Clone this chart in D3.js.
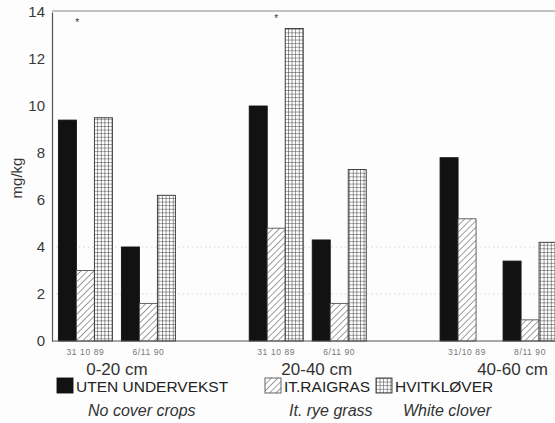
<!DOCTYPE html>
<html>
<head>
<meta charset="utf-8">
<script src="https://cdn.jsdelivr.net/npm/d3@7"></script>
<style>
  html, body { margin: 0; padding: 0; background: #fdfdfd; }
  svg { display: block; font-family: "Liberation Sans", Arial, Helvetica, sans-serif; }
</style>
</head>
<body>
<svg id="chart" width="555" height="423"></svg>
<script>
// Soil depth layers and sampling dates within each layer
const depthLayers = ["0-20 cm", "20-40 cm", "40-60 cm"];
const samplingDates = [
  ["31 10 89", "6/11 90"],
  ["31 10 89", "6/11 90"],
  ["31/10 89", "8/11 90"]
];

// Treatments (Norwegian legend text and English translation)
const treatments = ["UTEN UNDERVEKST", "IT.RAIGRAS", "HVITKLØVER"];
const treatmentsEnglish = ["No cover crops", "It. rye grass", "White clover"];

// mg/kg per layer/date, in order: 0-20 d1, 0-20 d2, 20-40 d1, 20-40 d2, 40-60 d1, 40-60 d2
const utenUndervekst = [9.4, 4.0, 10.0, 4.3, 7.8, 3.4];
const itRaigras      = [3.0, 1.6, 4.8, 1.6, 5.2, 0.9];
const hvitklover     = [9.5, 6.2, 13.3, 7.3, null, 4.2];

const yTicks = [0, 2, 4, 6, 8, 10, 12, 14];

// Significance marks (*) above the first sampling date; "slot" is measured in bar widths
const sigMarks = [
  { layer: 0, date: 0, slot: 1.05, value: 13.6 },
  { layer: 1, date: 0, slot: 1.5, value: 13.8 }
];

const seriesValues = [utenUndervekst, itRaigras, hvitklover];
const cells = [];
depthLayers.forEach((layer, li) => {
  samplingDates[li].forEach((d, di) => {
    treatments.forEach((t, ti) => {
      const v = seriesValues[ti][li * 2 + di];
      if (v != null) cells.push({ layer, li, di, ti, value: v });
    });
  });
});

const svg = d3.select("#chart");
const W = 555, H = 423;
const axisX = 52, yTop = 12, yBase = 341;

// Fill patterns
const defs = svg.append("defs");
const hatch = defs.append("pattern")
  .attr("id", "hatch").attr("patternUnits", "userSpaceOnUse")
  .attr("width", 4.6).attr("height", 4.6)
  .attr("patternTransform", "rotate(45)");
hatch.append("rect").attr("width", 4.6).attr("height", 4.6).attr("fill", "#fff");
hatch.append("line").attr("x1", 0).attr("y1", 0).attr("x2", 0).attr("y2", 4.6)
  .attr("stroke", "#6a6a6a").attr("stroke-width", 1.3);

const grid = defs.append("pattern")
  .attr("id", "grid").attr("patternUnits", "userSpaceOnUse")
  .attr("width", 3.6).attr("height", 3.6);
grid.append("rect").attr("width", 3.6).attr("height", 3.6).attr("fill", "#fff");
grid.append("path").attr("d", "M0,0H3.6M0,0V3.6")
  .attr("stroke", "#333").attr("stroke-width", 1).attr("fill", "none");

const fills = ["#121212", "url(#hatch)", "url(#grid)"];
const strokes = ["#121212", "#555", "#333"];

// Scales
const y = d3.scaleLinear().domain([0, 14]).range([yBase, yTop]);
const xLayer = d3.scaleBand().domain(depthLayers).range([21.5, 594]);
const xDate = d3.scaleBand().domain([0, 1]).range([36.9, 153.9]).paddingInner(0.143);
const xSeries = d3.scaleBand().domain([0, 1, 2]).range([0, xDate.bandwidth()]);

const dateX = (li, di) => xLayer(depthLayers[li]) + xDate(di);

// Faint dotted reference lines
svg.append("g").selectAll("line").data([2, 4]).join("line")
  .attr("x1", axisX).attr("x2", W)
  .attr("y1", d => y(d)).attr("y2", d => y(d))
  .attr("stroke", "#d6d6d6").attr("stroke-width", 1)
  .attr("stroke-dasharray", "1.5,3");

// Frame top line
svg.append("line").attr("x1", axisX).attr("x2", W).attr("y1", y(14) - 1).attr("y2", y(14) - 1)
  .attr("stroke", "#888").attr("stroke-width", 1.2);

// Bars
svg.append("g").selectAll("rect").data(cells).join("rect")
  .attr("x", d => dateX(d.li, d.di) + xSeries(d.ti))
  .attr("y", d => y(d.value))
  .attr("width", xSeries.bandwidth())
  .attr("height", d => y(0) - y(d.value))
  .attr("fill", d => fills[d.ti])
  .attr("stroke", d => strokes[d.ti])
  .attr("stroke-width", 0.9);

// Y axis
const yAxis = svg.append("g").attr("transform", `translate(${axisX},0)`)
  .call(d3.axisLeft(y).tickValues(yTicks).tickSize(0).tickPadding(7).tickFormat(d3.format("d")));
yAxis.select(".domain").attr("stroke", "#555").attr("stroke-width", 1.2);
yAxis.selectAll("text").attr("font-size", 15).attr("fill", "#3a3a3a")
  .attr("font-family", "Liberation Sans, Arial, sans-serif");

// Baseline
svg.append("line").attr("x1", axisX).attr("x2", W).attr("y1", y(0)).attr("y2", y(0))
  .attr("stroke", "#555").attr("stroke-width", 1.2);

// Y axis title
svg.append("text")
  .attr("transform", `translate(22,178) rotate(-90)`)
  .attr("text-anchor", "middle")
  .attr("font-size", 15).attr("fill", "#3a3a3a")
  .text("mg/kg");

// Sampling date labels
const dateLabelData = [];
samplingDates.forEach((ds, li) => ds.forEach((label, di) => dateLabelData.push({ li, di, label })));
svg.append("g").selectAll("text").data(dateLabelData).join("text")
  .attr("x", d => dateX(d.li, d.di) + xDate.bandwidth() / 2)
  .attr("y", 355)
  .attr("text-anchor", "middle")
  .attr("font-size", 8.5).attr("letter-spacing", 0.6).attr("fill", "#777")
  .text(d => d.label);

// Depth layer labels
const layerNudge = [0, 9, 14];
svg.append("g").selectAll("text").data(depthLayers).join("text")
  .attr("x", (d, i) => xLayer(d) + xLayer.bandwidth() / 2 + layerNudge[i])
  .attr("y", 375)
  .attr("text-anchor", "middle")
  .attr("font-size", 17).attr("fill", "#333")
  .text(d => d);

// Legend
const legendX = [57, 265, 376];
const legend = svg.append("g").selectAll("g").data(treatments).join("g")
  .attr("transform", (d, i) => `translate(${legendX[i]},0)`);
legend.append("rect")
  .attr("x", 0).attr("y", 378).attr("width", 16).attr("height", 15)
  .attr("fill", (d, i) => fills[i]).attr("stroke", (d, i) => strokes[i]).attr("stroke-width", 0.9);
legend.append("text")
  .attr("x", 19).attr("y", 392)
  .attr("font-size", 15.5).attr("fill", "#222")
  .text(d => d);
legend.append("text")
  .attr("x", (d, i) => [31, 24, 27][i]).attr("y", 416)
  .attr("font-size", 16).attr("font-style", "italic").attr("fill", "#333")
  .text((d, i) => treatmentsEnglish[i]);

// Significance asterisks
svg.append("g").selectAll("text").data(sigMarks).join("text")
  .attr("x", d => dateX(d.layer, d.date) + xSeries.step() * d.slot)
  .attr("y", d => y(d.value) + 5)
  .attr("text-anchor", "middle")
  .attr("font-size", 10).attr("fill", "#333")
  .text("*");
</script>
</body>
</html>
